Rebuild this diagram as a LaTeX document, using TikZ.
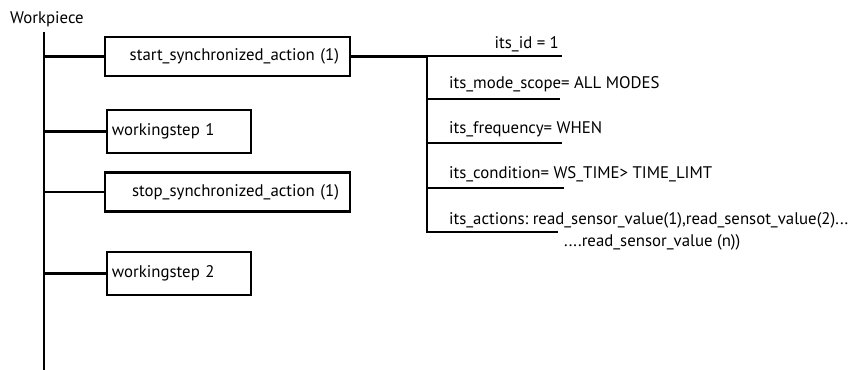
\documentclass[tikz,border=0pt]{standalone}
\usepackage{fontspec}
\setmainfont{PT Sans}
\begin{document}
\begin{tikzpicture}[x=0.5pt,y=-0.5pt,line width=1.1pt,
  txt/.style={font=\fontsize{8.4}{10}\selectfont,inner sep=0pt},
  widebox/.style={txt,draw,line width=1.1pt,minimum height=19.5pt,inner xsep=5.5pt,text width=111.5pt,align=right},
  stepbox/.style={txt,draw,line width=1.1pt,minimum height=21.5pt,inner xsep=2.5pt,text width=67pt,align=left}]
\useasboundingbox (0,0) rectangle (853,370);

% workpiece trunk
\node[txt,anchor=west] (wp) at (9,19) {Workpiece};
\coordinate (trunkTop) at (44,32);
\coordinate (trunkBot) at (44,370);
\draw (trunkTop) -- (trunkBot);

% children of the workpiece
\node[widebox] (sa) at (227.5,56.5) {start\_synchronized\_action (1)};
\node[stepbox] (ws1) at (179,131.5) {workingstep 1};
\node[widebox] (so) at (227.5,192) {stop\_synchronized\_action (1)};
\node[stepbox] (ws2) at (179,273.5) {workingstep 2};
\foreach \n in {sa,ws1,so,ws2}
  \draw (trunkTop |- \n.west) -- (\n.west);

% attributes of the synchronized action
\coordinate (attTop) at (427,56);
\coordinate (attBot) at (427,233);
\draw (sa.east) -- (sa.east -| attTop);
\draw (attTop) -- (attBot);

\coordinate (e1) at (562,56);
\coordinate (e2) at (560,99);
\coordinate (e3) at (562,143);
\coordinate (e4) at (564,188);
\coordinate (e5) at (558,232);
\foreach \e in {e1,e2,e3,e4,e5}
  \draw (attTop |- \e) -- (\e);

\node[txt,anchor=base east] (a1) at (560,48) {its\_id = 1};
\node[txt,anchor=base west] (a2) at (448,88) {its\_mode\_scope= ALL MODES};
\node[txt,anchor=base west] (a3) at (448,133) {its\_frequency= WHEN};
\node[txt,anchor=base west] (a4) at (448,178) {its\_condition= WS\_TIME> TIME\_LIMT};
\node[txt,anchor=base west] (a5) at (448,224) {its\_actions:\ read\_sensor\_value(1),read\_sensot\_value(2)...};
\node[txt,anchor=base west] (a6) at (563,246) {....read\_sensor\_value (n))};
\end{tikzpicture}
\end{document}
